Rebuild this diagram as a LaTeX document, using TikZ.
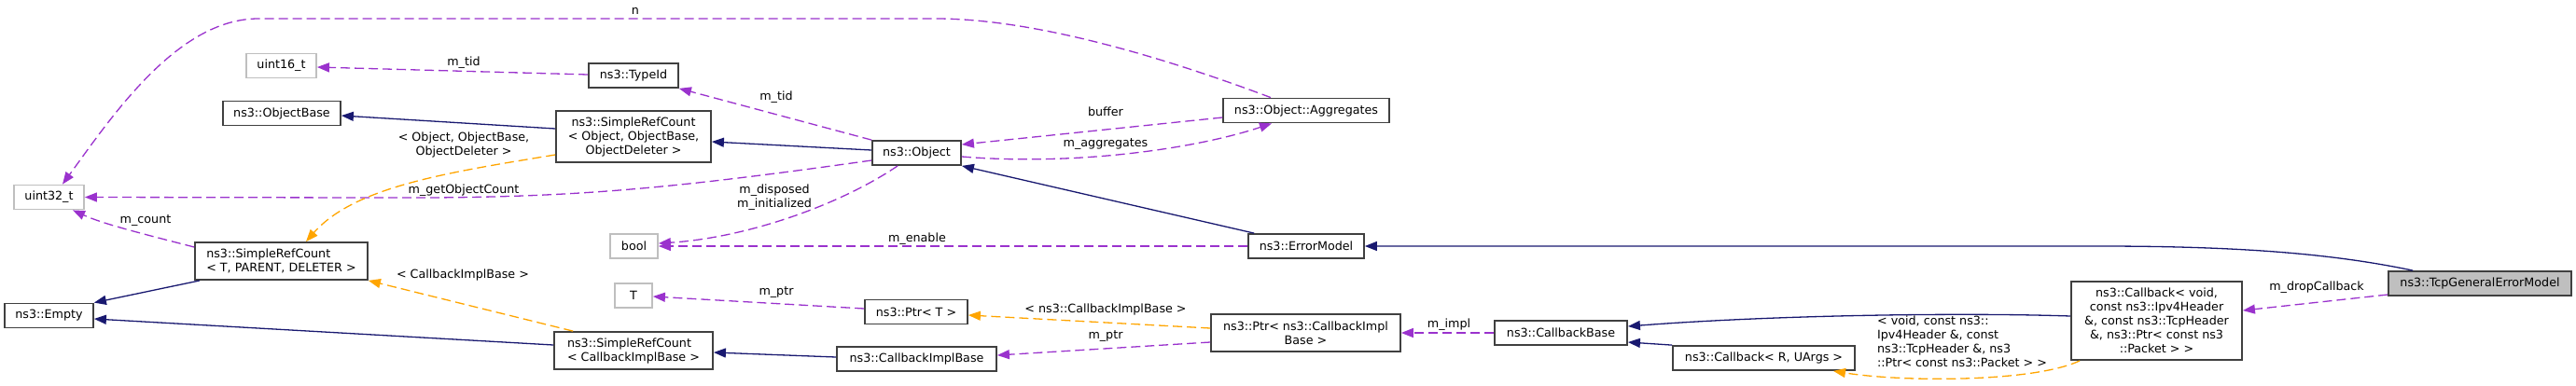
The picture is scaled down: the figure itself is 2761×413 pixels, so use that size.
\documentclass[tikz,border=0pt]{standalone}
\usepackage{fontspec}
\setmainfont{DejaVu Sans}
\usepackage{tikz}
\usetikzlibrary{calc,arrows.meta}
\definecolor{navy}{HTML}{191970}
\definecolor{orchid}{HTML}{9A32CD}
\definecolor{tplorange}{HTML}{FFA500}
\definecolor{boxline}{HTML}{404040}
\definecolor{greyline}{HTML}{BFBFBF}
\def\dfont{\fontsize{6.35}{7.5}\selectfont}
\tikzset{
	cls/.style={draw=boxline, line width=0.9pt, inner sep=0pt, font=\dfont, align=center, minimum height=13pt},
	ext/.style={cls, draw=greyline},
	inherit/.style={navy, line width=0.65pt, -{Triangle[length=6.5pt,width=5pt]}},
	usage/.style={orchid, line width=0.65pt, dash pattern=on 5pt off 2.5pt, -{Triangle[length=6.5pt,width=5pt]}},
	tmpl/.style={usage, tplorange},
	lbl/.style={font=\dfont, inner sep=0pt, align=center}
}

\begin{document}
\begin{tikzpicture}[x=0.5pt, y=-0.5pt]
			%%%%% START %%%%%
			\useasboundingbox (0,0) rectangle (2761,413);
			
			\node[ext, minimum width=37.5pt] (u32) at (52.5,211.5) {uint32\_t};
			\node[ext, minimum width=37.5pt] (u16) at (301.5,70.5) {uint16\_t};
			\node[cls, minimum width=63pt] (objbase) at (302,121.5) {ns3::ObjectBase};
			\node[cls, minimum width=92.5pt, minimum height=20pt, align=left] (srcT) at (301.5,280) {ns3::SimpleRefCount\\< T, PARENT, DELETER >};
			\node[cls, minimum width=47.5pt] (empty) at (52.5,338.5) {ns3::Empty};
			
			\node[cls, minimum width=48pt] (typeid) at (679,81) {ns3::TypeId};
			\node[cls, minimum width=83pt, minimum height=27.5pt] (srcobj) at (679,146.5) {ns3::SimpleRefCount\\< Object, ObjectBase,\\ObjectDeleter >};
			\node[ext, minimum width=25.5pt] (bool) at (679.5,264) {bool};
			\node[ext, minimum width=20pt] (T) at (679,317) {T};
			\node[cls, minimum width=85pt, minimum height=20pt, align=left] (srccbib) at (679,376) {ns3::SimpleRefCount\\< CallbackImplBase >};
			
			\node[cls, minimum width=47.5pt] (object) at (982.5,164) {ns3::Object};
			\node[cls, minimum width=55pt] (ptrT) at (982,334.5) {ns3::Ptr< T >};
			\node[cls, minimum width=85.5pt] (cbib) at (982.5,385) {ns3::CallbackImplBase};
			
			\node[cls, minimum width=89pt] (agg) at (1400,118.5) {ns3::Object::Aggregates};
			\node[cls, minimum width=62pt] (errmodel) at (1400,264) {ns3::ErrorModel};
			\node[cls, minimum width=101.5pt, minimum height=20pt] (ptrcbib) at (1399.5,357) {ns3::Ptr< ns3::CallbackImpl\\Base >};
			
			\node[cls, minimum width=71pt] (cbbase) at (1673,357) {ns3::CallbackBase};
			\node[cls, minimum width=97.5pt] (cbRU) at (1890.5,384) {ns3::Callback< R, UArgs >};
			\node[cls, minimum width=91.5pt, minimum height=42pt] (cbvoid) at (2311.5,344) {ns3::Callback< void,\\ const ns3::Ipv4Header\\\&, const ns3::TcpHeader\\\&, ns3::Ptr< const ns3\\::Packet > >};
			\node[cls, fill=greyline, minimum width=98pt] (tcp) at (2658,304) {ns3::TcpGeneralErrorModel};
			
			% inheritance
			\draw[inherit] ($(srcobj.west)+(0,-8.5)$) -- ($(objbase.east)+(0,2.5)$);
			\draw[inherit] ($(srcT.south west)+(6,0)$) -- (empty.north east);
			\draw[inherit] ($(srccbib.west)+(0,-6)$) -- ($(empty.east)+(0,3.5)$);
			\draw[inherit] ($(object.west)+(0,-3)$) -- ($(srcobj.east)+(0,5.5)$);
			\draw[inherit] ($(errmodel.north west)+(7,0)$) -- (object.south east);
			\draw[inherit] ($(cbib.west)+(0,-2)$) -- ($(srccbib.east)+(0,2)$);
			\draw[inherit] ($(cbvoid.west)+(0,-5)$) .. controls (2100,335) and (1900,338) .. ($(cbbase.east)+(0,-7)$);
			\draw[inherit] (cbRU.north west) -- ($(cbbase.east)+(0,10)$);
			\draw[inherit] ($(tcp.north west)+(27,0)$) .. controls (2500,272) and (2400,264) .. (2250,264) -- (errmodel.east);
			
			% members
			\draw[usage] ($(agg.north)+(-38,0)$) .. controls (1230,55) and (1100,20) .. (1003,20) -- (277,20) .. controls (190,20) and (120,125) .. ($(u32.north)+(14.5,0)$);
			\node[lbl] (l-n) at (681,12) {n};
			\draw[usage] ($(typeid.west)+(0,-1)$) -- ($(u16.east)+(0,1.5)$);
			\node[lbl] (l-tid1) at (497,67) {m\_tid};
			\draw[usage] (object.north west) -- (typeid.south east);
			\node[lbl] (l-tid2) at (832,104) {m\_tid};
			\draw[usage] ($(object.west)+(0,8)$) .. controls (700,205) and (600,213) .. (400,212) -- (u32.east);
			\node[lbl] (l-goc) at (497,204) {m\_getObjectCount};
			\draw[usage] ($(srcT.west)+(0,-15)$) .. controls (150,250) and (110,240) .. ($(u32.south)+(25.5,0)$);
			\node[lbl] (l-count) at (156,237) {m\_count};
			\draw[usage] ($(object.south west)+(28,0)$) .. controls (900,220) and (800,255) .. ($(bool.east)+(0,-3)$);
			\node[lbl] (l-disp) at (830,212) {m\_disposed\\m\_initialized};
			\draw[usage] (errmodel.west) -- (bool.east);
			\node[lbl] (l-enable) at (983,256) {m\_enable};
			\draw[usage] ($(agg.west)+(0,7.5)$) -- ($(object.east)+(0,-9)$);
			\node[lbl] (l-buffer) at (1185,120) {buffer};
			\draw[usage] ($(object.east)+(0,4)$) .. controls (1150,178) and (1280,160) .. ($(agg.south)+(-37,0)$);
			\node[lbl] (l-aggr) at (1185,155) {m\_aggregates};
			\draw[usage] ($(ptrT.west)+(0,-3.5)$) -- ($(T.east)+(0,1)$);
			\node[lbl] (l-ptr1) at (832,314) {m\_ptr};
			\draw[usage] ($(ptrcbib.west)+(0,10)$) -- ($(cbib.east)+(0,-4)$);
			\node[lbl] (l-ptr2) at (1185,361) {m\_ptr};
			\draw[usage] (cbbase.west) -- (ptrcbib.east);
			\node[lbl] (l-impl) at (1553,348) {m\_impl};
			\draw[usage] ($(tcp.west)+(0,12)$) -- ($(cbvoid.east)+(0,-11)$);
			\node[lbl] (l-drop) at (2483,308) {m\_dropCallback};
			
			% template instances
			\draw[tmpl] ($(srcobj.west)+(0,19.5)$) .. controls (480,185) and (380,200) .. ($(srcT.north)+(26.5,0)$);
			\node[lbl] (l-tobj) at (497,155) {< Object, ObjectBase,\\ObjectDeleter >};
			\draw[tmpl] ($(srccbib.north west)+(21,0)$) -- (srcT.south east);
			\node[lbl] (l-tcbib) at (496,295) {< CallbackImplBase >};
			\draw[tmpl] ($(ptrcbib.west)+(0,-5)$) -- ($(ptrT.east)+(0,3.5)$);
			\node[lbl] (l-tptr) at (1185,332) {< ns3::CallbackImplBase >};
			\draw[tmpl] ($(cbvoid.south west)+(10,0)$) .. controls (2180,410) and (2040,410) .. ($(cbRU.south)+(74.5,0)$);
			\node[lbl, align=left] (l-tvoid) at (2103,366) {< void, const ns3::\\Ipv4Header \&, const\\ ns3::TcpHeader \&, ns3\\::Ptr< const ns3::Packet > >};
			%%%%% END %%%%%
\end{tikzpicture}
\end{document}
